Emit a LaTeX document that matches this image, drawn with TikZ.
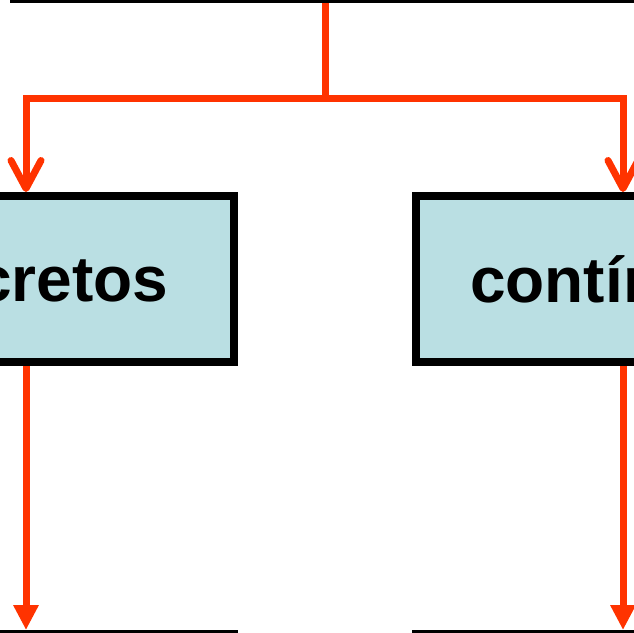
\documentclass[tikz,border=0pt]{standalone}
\usepackage{fontspec}
\setmainfont{Liberation Sans}
\usetikzlibrary{arrows.meta}
\definecolor{arrowred}{HTML}{FF3300}
\definecolor{boxblue}{HTML}{BADFE3}
\begin{document}
\begin{tikzpicture}[x=1pt, y=-1pt, node distance=597pt,
  every node/.style={font={\fontsize{64}{70}\selectfont\bfseries}, draw=black, line width=8pt,
    fill=boxblue, rectangle, minimum width=415pt, minimum height=166pt, inner sep=0pt},
  link/.style={draw=arrowred, line width=7pt},
  split/.style={link, -{Straight Barb[length=28pt, width=30pt, round]}},
  down/.style={link, -{Triangle[length=25pt, width=24pt]}}]
\useasboundingbox (0,0) rectangle (634,632);
\clip (0,0) rectangle (634,632);
\node[fill=white, minimum width=622pt] (top) at (325,-84) {};
\node (discretos) at (26,279) {discretos};
\node[right of=discretos] (continuos) {contínuos};
\node[below of=discretos, node distance=438pt] (leftend) {};
\node[below of=continuos, node distance=438pt] (rightend) {};
\coordinate (fork) at (325,98);
\path[link] (top.south) -- ([yshift=-3.5pt]fork);
\path[split] (fork) -| (discretos.north);
\path[split] (fork) -| (continuos.north);
\path[down] (discretos) -- (leftend);
\path[down] (continuos) -- (rightend);
\end{tikzpicture}
\end{document}
